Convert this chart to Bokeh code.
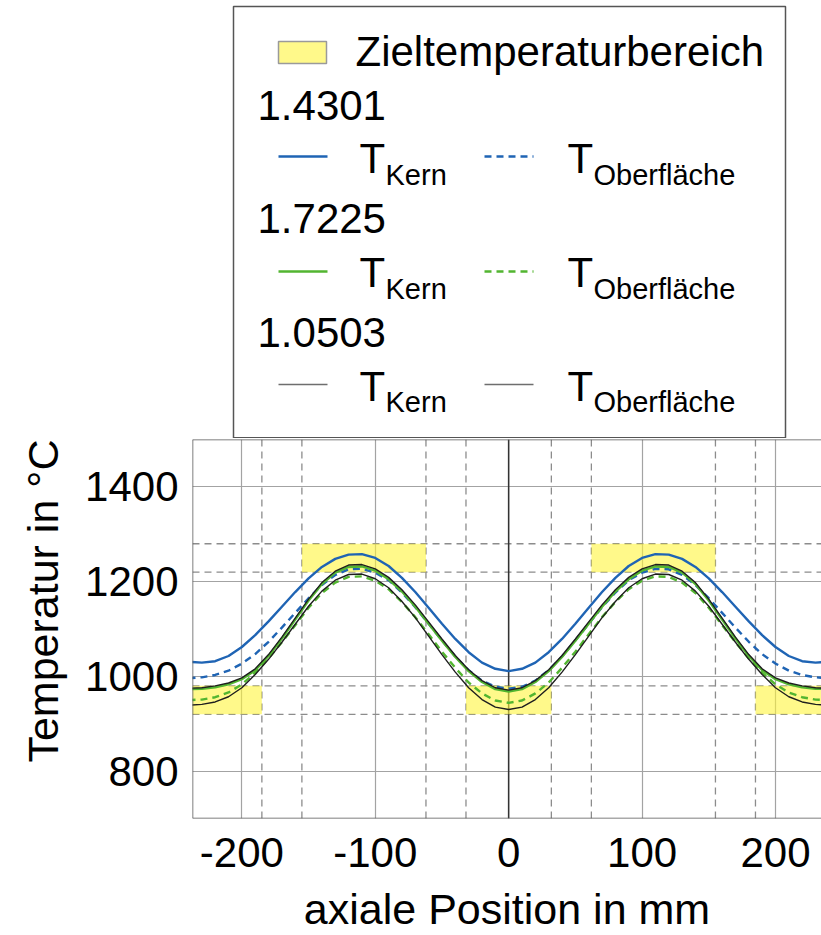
from bokeh.plotting import figure
from bokeh.models import Range1d, FixedTicker, Span, Title, ColumnDataSource
from bokeh.layouts import column
from bokeh.embed import file_html
from bokeh.resources import INLINE
from bokeh.core.properties import value

FONT = "Liberation Sans"

# ---------------- data ----------------
pos_mm = [-240, -230, -220, -210, -200, -190, -180, -170, -160, -150, -140, -130, -120,
          -110, -100, -90, -80, -70, -60, -50, -40, -30, -20, -10, 0,
          10, 20, 30, 40, 50, 60, 70, 80, 90, 100, 110, 120, 130, 140, 150,
          160, 170, 180, 190, 200, 210, 220, 230, 240]

t1_4301_kern = [1031, 1029, 1032, 1043, 1062, 1087, 1116, 1147, 1178, 1207, 1231, 1248, 1257,
                1258, 1250, 1233, 1208, 1178, 1145, 1111, 1079, 1051, 1029, 1016, 1011,
                1016, 1029, 1051, 1079, 1111, 1145, 1178, 1208, 1233, 1250, 1258, 1257, 1248, 1231, 1207,
                1178, 1147, 1116, 1087, 1062, 1043, 1032, 1029, 1031]
t1_4301_surf = [996, 998, 1003, 1012, 1027, 1047, 1073, 1103, 1134, 1165, 1193, 1214, 1226,
                1227, 1219, 1203, 1177, 1146, 1111, 1076, 1042, 1013, 991, 978, 974,
                978, 991, 1013, 1042, 1076, 1111, 1146, 1177, 1203, 1219, 1227, 1226, 1214, 1193, 1165,
                1134, 1103, 1073, 1047, 1027, 1012, 1003, 998, 996]
t1_7225_kern = [973, 974, 977, 983, 994, 1013, 1043, 1080, 1120, 1160, 1195, 1219, 1231,
                1232, 1223, 1205, 1179, 1147, 1111, 1075, 1041, 1011, 988, 973, 968,
                973, 988, 1011, 1041, 1075, 1111, 1147, 1179, 1205, 1223, 1232, 1231, 1219, 1195, 1160,
                1120, 1080, 1043, 1013, 994, 983, 977, 974, 973]
t1_7225_surf = [950, 951, 956, 966, 983, 1008, 1038, 1072, 1108, 1145, 1176, 1198, 1210,
                1211, 1202, 1184, 1157, 1125, 1089, 1052, 1018, 987, 964, 949, 944,
                949, 964, 987, 1018, 1052, 1089, 1125, 1157, 1184, 1202, 1211, 1210, 1198, 1176, 1145,
                1108, 1072, 1038, 1008, 983, 966, 956, 951, 950]
t1_0503_kern = [975, 976, 980, 986, 997, 1016, 1046, 1083, 1123, 1163, 1198, 1222, 1235,
                1236, 1227, 1209, 1183, 1151, 1115, 1079, 1044, 1014, 991, 976, 971,
                976, 991, 1014, 1044, 1079, 1115, 1151, 1183, 1209, 1227, 1236, 1235, 1222, 1198, 1163,
                1123, 1083, 1046, 1016, 997, 986, 980, 976, 975]
t1_0503_surf = [939, 941, 946, 957, 976, 1004, 1036, 1072, 1110, 1148, 1180, 1203, 1215,
                1216, 1206, 1187, 1158, 1124, 1085, 1046, 1009, 976, 951, 935, 930,
                935, 951, 976, 1009, 1046, 1085, 1124, 1158, 1187, 1206, 1216, 1215, 1203, 1180, 1148,
                1110, 1072, 1036, 1004, 976, 957, 946, 941, 939]

# target temperature zones
zone_left = [-155, 62, -275, -32, 185]
zone_right = [-62, 155, -185, 32, 275]
zone_low = [1220, 1220, 920, 920, 920]
zone_high = [1280, 1280, 980, 980, 980]
zone_edges_mm = [-185, -155, -62, -32, 32, 62, 155, 185]
zone_levels = [920, 980, 1220, 1280]

x_ticks = [-200, -100, 0, 100, 200]
x_tick_labels = ["-200", "-100", "0", "100", "200"]
y_ticks = [800, 1000, 1200, 1400]

steels = ["1.4301", "1.7225", "1.0503"]
BLUE = "#1f64b4"
GREEN = "#52b530"
BLACK = "#1e1e1e"
YELLOW = "#fff53c"

series = [
    (t1_4301_kern, BLUE, 2.4, "solid"),
    (t1_4301_surf, BLUE, 2.4, "7 5"),
    (t1_7225_kern, GREEN, 2.4, "solid"),
    (t1_7225_surf, GREEN, 2.4, "7 5"),
    (t1_0503_kern, BLACK, 1.4, "solid"),
    (t1_0503_surf, BLACK, 1.4, "solid"),
]

# ---------------- legend panel (pixel coordinates, frame aligned with plot) ----------------
leg = figure(width=821, height=438, x_range=Range1d(0, 629), y_range=Range1d(438, 0),
             x_axis_type=None, y_axis_type=None, toolbar_location=None,
             output_backend="svg", min_border_left=192, min_border_right=0,
             min_border_top=0, min_border_bottom=0)
leg.outline_line_color = None
leg.background_fill_color = "white"
leg.border_fill_color = "white"

leg.quad(left=[41], right=[593], top=[6], bottom=[437.3], fill_color="white",
         line_color="#555555", line_width=1.5)
leg.quad(left=[86], right=[134], top=[41], bottom=[63], fill_color=YELLOW, fill_alpha=0.6,
         line_color="#9a9a9a", line_width=1.5)
leg.text(x=[163], y=[51], text=["Zieltemperaturbereich"], text_font=value(FONT),
         text_font_size=value("42px"), text_baseline="middle", text_color="black")

head_y = [105, 218, 332]
row_line_y = [156, 271, 384]
row_T_y = [158, 272, 386]
row_sub_y = [174, 288, 401]
leg.text(x=[65] * 3, y=head_y, text=steels, text_font=value(FONT),
         text_font_size=value("42px"), text_baseline="middle", text_color="black")
for i in range(3):
    k = series[2 * i]
    s = series[2 * i + 1]
    kc = k[1] if i < 2 else "#6e6e6e"
    sc = s[1] if i < 2 else "#6e6e6e"
    leg.line(x=[86, 135], y=[row_line_y[i]] * 2, line_color=kc, line_width=k[2], line_dash=k[3])
    leg.line(x=[292, 341], y=[row_line_y[i]] * 2, line_color=sc, line_width=s[2], line_dash=s[3])
    leg.text(x=[167, 375], y=[row_T_y[i]] * 2, text=["T", "T"], text_font=value(FONT),
             text_font_size=value("42px"), text_baseline="middle", text_color="black")
    leg.text(x=[193, 401], y=[row_sub_y[i]] * 2, text=["Kern", "Oberfläche"], text_font=value(FONT),
             text_font_size=value("29px"), text_baseline="middle", text_color="black")

# ---------------- main plot ----------------
p = figure(width=821, height=497, x_range=Range1d(-237, 234.5), y_range=Range1d(700, 1500),
           toolbar_location=None, output_backend="svg",
           min_border_left=192, min_border_right=0, min_border_top=1, min_border_bottom=117)
p.background_fill_color = "white"
p.border_fill_color = "white"
p.outline_line_color = None

p.grid.grid_line_color = "#a3a3a3"
p.grid.grid_line_width = 1.2

zsrc = ColumnDataSource(dict(left=zone_left, right=zone_right, bottom=zone_low, top=zone_high))
p.quad(left="left", right="right", bottom="bottom", top="top", source=zsrc,
       fill_color=YELLOW, fill_alpha=0.6, line_color=None)

for xe in zone_edges_mm:
    p.add_layout(Span(location=xe, dimension="height", line_color="#8c8c8c",
                      line_width=1.3, line_dash="7 5", level="underlay"))
for te in zone_levels:
    p.add_layout(Span(location=te, dimension="width", line_color="#8c8c8c",
                      line_width=1.3, line_dash="7 5", level="underlay"))
p.add_layout(Span(location=0, dimension="height", line_color="#333333", line_width=1.5,
                  level="underlay"))

for vals, col, lw, dash in series:
    p.line(x=pos_mm, y=vals, line_color=col, line_width=lw, line_dash=dash)

# frame border on left, top and bottom (the right edge is cut off in the reference)
p.add_layout(Span(location=p.x_range.start, dimension="height", line_color="#555555", line_width=1.5))
p.add_layout(Span(location=p.y_range.start, dimension="width", line_color="#555555", line_width=1.5))
p.add_layout(Span(location=p.y_range.end, dimension="width", line_color="#555555", line_width=1.5))

for ax in (p.xaxis, p.yaxis):
    ax.major_tick_in = 0
    ax.major_tick_out = 0
    ax.minor_tick_line_color = None
    ax.axis_line_color = None
    ax.major_label_text_font = FONT
    ax.major_label_text_font_size = "42px"
    ax.major_label_text_color = "black"

p.yaxis.major_label_standoff = 14
p.xaxis.major_label_standoff = 19

p.xaxis.ticker = FixedTicker(ticks=x_ticks)
p.yaxis.ticker = FixedTicker(ticks=y_ticks)
p.xaxis.major_label_overrides = {t: l for t, l in zip(x_ticks, x_tick_labels)}

p.xaxis.axis_label = "axiale Position in mm"
p.xaxis.axis_label_text_font = FONT
p.xaxis.axis_label_text_font_size = "43px"
p.xaxis.axis_label_text_font_style = "normal"
p.xaxis.axis_label_text_color = "black"
p.xaxis.axis_label_standoff = 15

ytitle = Title(text="Temperatur in °C", align="right", offset=0, vertical_align="middle",
               text_font=FONT, text_font_size="43px", text_font_style="normal",
               text_color="black")
try:
    ytitle.standoff = 30
except Exception:
    pass
p.add_layout(ytitle, "left")

layout = column(leg, p, spacing=0)
open("out.html", "w").write(file_html(layout, INLINE))
